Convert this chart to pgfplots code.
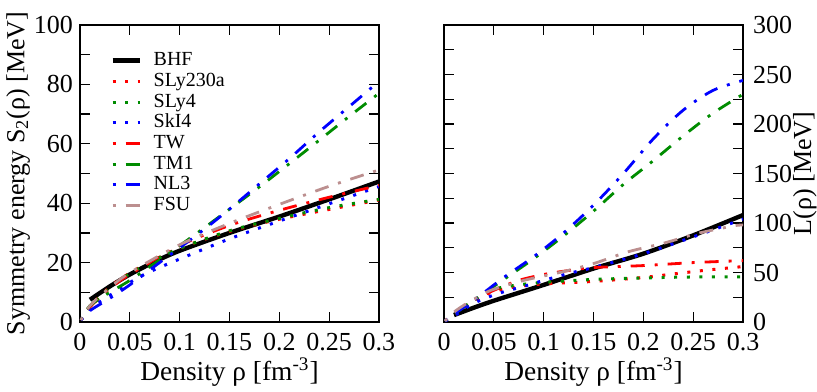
\documentclass[border=0pt]{standalone}
\usepackage{fontspec}
\setmainfont{Liberation Serif}
\usepackage{pgfplots}
\pgfplotsset{compat=1.18}

\definecolor{fsu}{RGB}{188,143,143}
\definecolor{dgreen}{RGB}{0,140,0}

\pgfplotsset{
  panel/.style={
    width=149.5pt, height=148.5pt, scale only axis,
    xmin=0, xmax=0.3,
    xtick={0,0.05,0.1,0.15,0.2,0.25,0.3},
    xticklabels={0,0.05,0.1,0.15,0.2,0.25,0.3},
    tick align=inside, major tick length=5pt, minor tick length=5pt,
    axis line style={line width=0.6pt},
    every tick/.style={black, line width=0.6pt},
    tick label style={font=\fontsize{13}{14}\selectfont},
    xticklabel style={yshift=-2pt},
    /pgf/number format/assume math mode=true,
    xlabel={Density ρ [fm\textsuperscript{-3}]},
    every axis x label/.style={at={(axis description cs:0.5,-0.168)}, anchor=center,
      font=\fontsize{13.7}{15}\selectfont},
  },
  bhf/.style={black, line width=2.2pt},
  dotl/.style={line width=1.5pt, dash pattern=on 1.5pt off 4.8pt, smooth, tension=0.5},
  dashdot/.style={line width=1.4pt, dash pattern=on 1.5pt off 5pt on 7pt off 5pt, smooth, tension=0.5},
}

\begin{document}
\begin{tikzpicture}
\path[use as bounding box] (-40pt,-34.5pt) rectangle (368.5pt,161pt);

% ---- left: symmetry energy ----
\begin{axis}[panel,
    ymin=0, ymax=100,
    ytick={0,20,40,60,80,100},
    minor y tick num=1,
    ylabel={Symmetry energy S\textsubscript{2}(ρ) [MeV]},
    every axis y label/.style={at={(axis description cs:-0.207,0.5)}, rotate=90, anchor=center,
      font=\fontsize{13}{14}\selectfont},
    legend style={at={(axis description cs:0.1,0.915)}, anchor=north west,
      draw=none, fill=none, inner sep=0pt, row sep=0.35pt,
      font=\fontsize{10}{11}\selectfont,
      nodes={inner sep=0pt, text height=7.5pt, text depth=2.5pt}},
    legend cell align=left,
    /tikz/every odd column/.append style={column sep=6pt},
    legend image code/.code={\draw[#1] (0pt,0pt) -- (13.5pt,0pt);},
]
\addplot[bhf, smooth, tension=0.5] coordinates {
  (0.01,7.5) (0.03,12) (0.05,16) (0.075,20.3) (0.1,24) (0.15,30) (0.2,35.5) (0.25,41.3) (0.3,47.3)};
\addlegendentry{BHF}
\addplot[dotl, red] coordinates {
  (0.001,0.6) (0.01,5.2) (0.03,11.8) (0.05,16.5) (0.075,21) (0.1,24.9) (0.15,30.5) (0.2,34.6) (0.25,37.9) (0.3,41.1)};
\addlegendentry{SLy230a}
\addplot[dotl, dgreen] coordinates {
  (0.001,0.6) (0.01,5) (0.03,11.5) (0.05,16.3) (0.075,20.8) (0.1,24.8) (0.15,30.7) (0.2,34.9) (0.25,38.5) (0.3,41.3)};
\addlegendentry{SLy4}
\addplot[dotl, blue] coordinates {
  (0.001,0.6) (0.01,4.5) (0.028,8.5) (0.05,13.3) (0.07,16.9) (0.1,21.2) (0.15,28) (0.2,34) (0.25,39.8) (0.3,45.6)};
\addlegendentry{SkI4}
\addplot[dashdot, red] coordinates {
  (0.001,0.6) (0.01,5) (0.03,11.3) (0.05,16) (0.1,25.7) (0.15,32.5) (0.2,37.6) (0.25,42) (0.3,46)};
\addlegendentry{TW}
\addplot[dashdot, dgreen] coordinates {
  (0.001,0.6) (0.01,5.5) (0.03,10) (0.05,14) (0.075,19.8) (0.1,25.7) (0.125,31.8) (0.15,38) (0.18,45.5) (0.21,53.3) (0.24,61.2) (0.27,69.2) (0.3,77)};
\addlegendentry{TM1}
\addplot[dashdot, blue] coordinates {
  (0.001,0.6) (0.01,3.8) (0.03,8) (0.05,12.5) (0.075,18.8) (0.1,25) (0.125,31.3) (0.15,38) (0.18,46.5) (0.21,55) (0.24,64) (0.27,72.5) (0.3,81)};
\addlegendentry{NL3}
\addplot[dashdot, fsu] coordinates {
  (0.001,0.6) (0.01,5.5) (0.03,11.6) (0.05,16.6) (0.1,26) (0.15,33.2) (0.2,39.6) (0.25,45.7) (0.3,51.2)};
\addlegendentry{FSU}
\end{axis}

% ---- right: slope parameter ----
\begin{axis}[panel, at={(182pt,0pt)},
    ymin=0, ymax=300,
    ytick={0,50,100,150,200,250,300},
    minor y tick num=1,
    yticklabel pos=right,
    yticklabel style={xshift=1.5pt},
    ylabel={L(ρ) [MeV]},
    every axis y label/.style={at={(axis description cs:1.207,0.5)}, rotate=90, anchor=center,
      font=\fontsize{13}{14}\selectfont},
]
\addplot[bhf, smooth, tension=0.5] coordinates {
  (0.01,7) (0.03,14.5) (0.05,21.5) (0.075,29.5) (0.1,37.5) (0.15,54) (0.2,69) (0.25,87.5) (0.3,108)};
\addplot[dotl, red] coordinates {
  (0.001,1) (0.01,8) (0.03,21) (0.05,31) (0.075,36) (0.1,38.5) (0.15,41) (0.2,45) (0.23,48.5) (0.26,52) (0.3,56)};
\addplot[dotl, dgreen] coordinates {
  (0.001,1) (0.01,8) (0.03,22) (0.05,33) (0.075,37.5) (0.1,40) (0.15,43) (0.2,44.5) (0.25,45.5) (0.3,45.5)};
\addplot[dotl, blue] coordinates {
  (0.001,1) (0.01,6) (0.03,19) (0.055,29) (0.08,36) (0.1,42) (0.125,49) (0.15,55) (0.2,69) (0.25,86) (0.3,104)};
\addplot[dashdot, red] coordinates {
  (0.001,1) (0.01,9) (0.03,22) (0.05,32) (0.075,42) (0.1,48) (0.125,52) (0.15,55) (0.2,57) (0.25,60) (0.3,62)};
\addplot[dashdot, dgreen] coordinates {
  (0.001,1) (0.01,8) (0.03,22) (0.06,43) (0.09,64) (0.12,87) (0.15,112) (0.18,139) (0.21,163) (0.24,188) (0.27,211) (0.3,230)};
\addplot[dashdot, blue] coordinates {
  (0.001,1) (0.01,8) (0.03,22) (0.06,45) (0.09,66) (0.12,90) (0.15,118) (0.18,150) (0.21,185) (0.24,214) (0.27,234) (0.3,244)};
\addplot[dashdot, fsu] coordinates {
  (0.001,1) (0.01,10) (0.02,17) (0.03,23) (0.047,32) (0.08,42) (0.116,50) (0.15,59) (0.185,71) (0.22,79.5) (0.255,89.6) (0.29,97) (0.3,98)};
\end{axis}
\end{tikzpicture}
\end{document}
